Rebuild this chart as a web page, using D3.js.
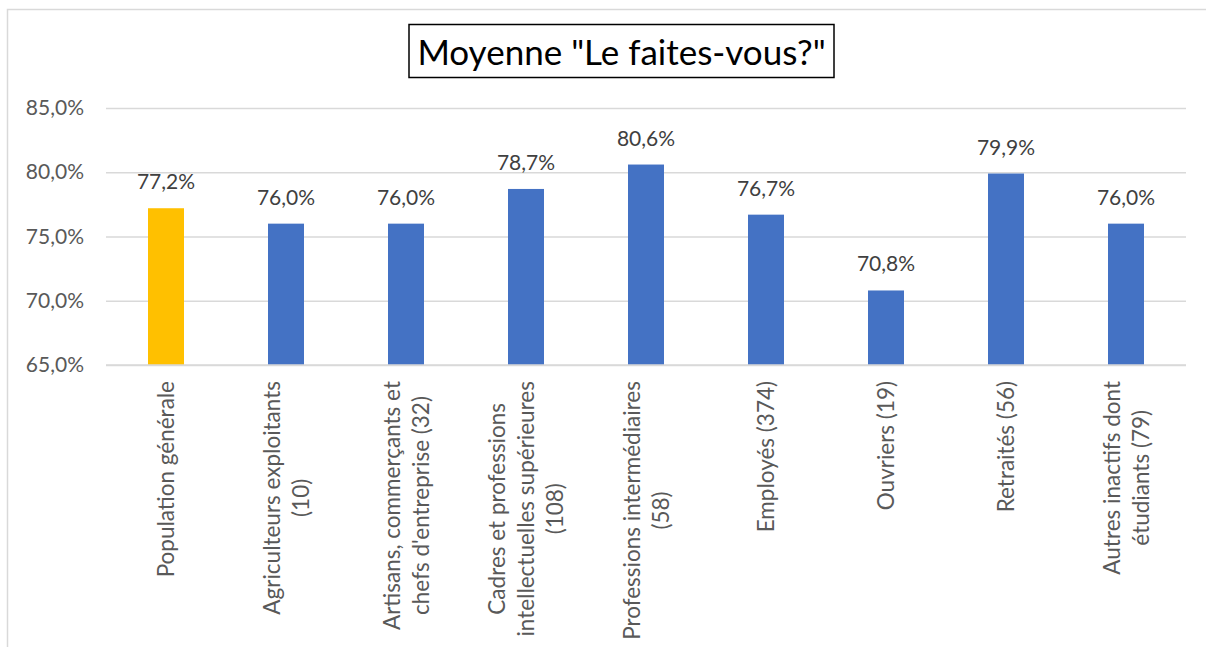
<!DOCTYPE html>
<html>
<head>
<meta charset="utf-8">
<script src="https://cdn.jsdelivr.net/npm/d3@7"></script>
<style>
  html, body { margin: 0; padding: 0; background: #fff; }
  svg { display: block; }
  text { font-family: Lato, "Open Sans", sans-serif; }
</style>
</head>
<body>
<svg id="chart" width="1206" height="647"></svg>
<script>
const title = 'Moyenne "Le faites-vous?"';
const categories = [
  ["Population générale"],
  ["Agriculteurs exploitants", "(10)"],
  ["Artisans, commerçants et", "chefs d'entreprise (32)"],
  ["Cadres et professions", "intellectuelles supérieures", "(108)"],
  ["Professions intermédiaires", "(58)"],
  ["Employés (374)"],
  ["Ouvriers (19)"],
  ["Retraités (56)"],
  ["Autres inactifs dont", "étudiants (79)"]
];
const values = [77.2, 76.0, 76.0, 78.7, 80.6, 76.7, 70.8, 79.9, 76.0];
const highlight = [true, false, false, false, false, false, false, false, false];
const yTicks = [65, 70, 75, 80, 85];

const svg = d3.select("#chart");
const plot = {left: 106, right: 1186, top: 108, bottom: 365};

// outer chart frame
svg.append("rect")
  .attr("x", 7.5).attr("y", 9.5).attr("width", 1220).attr("height", 700)
  .attr("fill", "#fff").attr("stroke", "#d9d9d9").attr("stroke-width", 1.5);

const keys = categories.map((c, i) => i);
const x = d3.scaleBand().domain(keys).range([plot.left, plot.right]).paddingInner(0.7).paddingOuter(0.35);
const y = d3.scaleLinear().domain([65, 85]).range([plot.bottom, plot.top]);

const fmt = v => d3.format(".1f")(v).replace(".", ",") + "%";

// gridlines + tick labels
const yAxis = d3.axisLeft(y).tickValues(yTicks).tickFormat(fmt).tickSize(-(plot.right - plot.left)).tickPadding(22);
const gy = svg.append("g").attr("transform", `translate(${plot.left},0)`).call(yAxis);
gy.select(".domain").remove();
gy.selectAll(".tick line").attr("stroke", "#d9d9d9").attr("stroke-width", 1.5);
gy.selectAll(".tick text").attr("fill", "#595959").style("font-size", "21px").style("font-family", "Lato, sans-serif");

// bars
svg.append("g").selectAll("rect").data(values).join("rect")
  .attr("x", (d, i) => x(i))
  .attr("width", x.bandwidth())
  .attr("y", d => y(d))
  .attr("height", d => y(65) - y(d))
  .attr("fill", (d, i) => highlight[i] ? "#FFC000" : "#4472C4");

// baseline
svg.append("line")
  .attr("x1", plot.left).attr("x2", plot.right)
  .attr("y1", y(65)).attr("y2", y(65))
  .attr("stroke", "#d9d9d9").attr("stroke-width", 1.5);

// data labels
svg.append("g").selectAll("text").data(values).join("text")
  .attr("x", (d, i) => x(i) + x.bandwidth() / 2)
  .attr("y", d => y(d) - 19)
  .attr("text-anchor", "middle")
  .attr("fill", "#404040")
  .style("font-size", "21px")
  .text(d => fmt(d));

// category labels (rotated, multiline, centered lines)
const labelTop = 381;
const lineH = 29;
const gl = svg.append("g");
categories.forEach((lines, i) => {
  const cx = x(i) + x.bandwidth() / 2;
  const g = gl.append("g");
  const texts = lines.map((ln) => g.append("text")
    .attr("text-anchor", "middle")
    .attr("fill", "#595959")
    .style("font-size", "22.5px")
    .text(ln));
  const maxLen = d3.max(texts, t => t.node().getComputedTextLength());
  const cy = labelTop + maxLen / 2;
  texts.forEach((t, j) => {
    const off = (j - (lines.length - 1) / 2) * lineH;
    t.attr("transform", `translate(${cx + off + 8},${cy}) rotate(-90)`);
  });
});

// title
const tg = svg.append("g");
tg.append("rect")
  .attr("x", 409).attr("y", 24.5).attr("width", 425).attr("height", 53)
  .attr("fill", "#fff").attr("stroke", "#000").attr("stroke-width", 1.5);
tg.append("text")
  .attr("x", 621.5).attr("y", 65)
  .attr("text-anchor", "middle")
  .attr("fill", "#000")
  .style("font-size", "35px")
  .text(title);
</script>
</body>
</html>
